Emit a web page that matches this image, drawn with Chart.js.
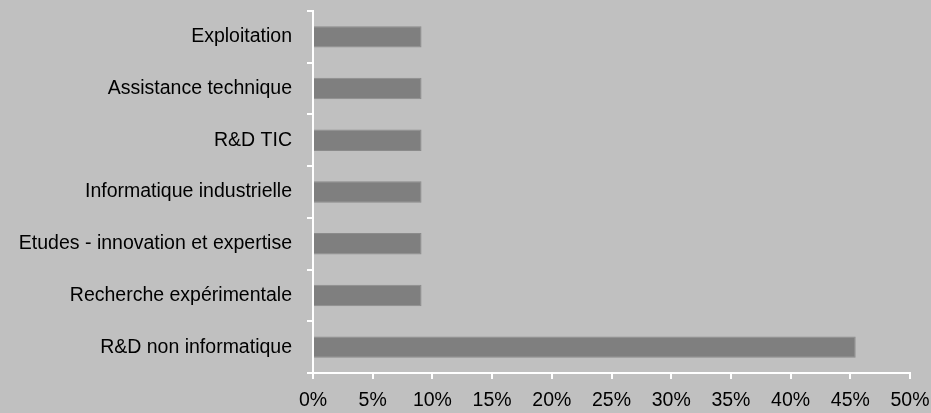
<!DOCTYPE html>
<html>
<head>
<meta charset="utf-8">
<script src="https://cdn.jsdelivr.net/npm/chart.js@4"></script>
<style>
  html, body { margin: 0; padding: 0; background: #c0c0c0; }
  #wrap { width: 931px; height: 413px; }
</style>
</head>
<body>
<div id="wrap"><canvas id="chart"></canvas></div>
<script>
const categories = [
    'Exploitation',
    'Assistance technique',
    'R&D TIC',
    'Informatique industrielle',
    'Etudes - innovation et expertise',
    'Recherche expérimentale',
    'R&D non informatique'
];
const shares = [9.09, 9.09, 9.09, 9.09, 9.09, 9.09, 45.45];
const xTicks = [0, 5, 10, 15, 20, 25, 30, 35, 40, 45, 50];

const labelFont = { family: '"Liberation Sans", Arial, sans-serif', size: 19.5 };

const ctx = document.getElementById('chart').getContext('2d');
const chart = new Chart(ctx, {
    type: 'bar',
    data: {
        labels: categories,
        datasets: [{
            data: shares,
            backgroundColor: '#7f7f7f',
            borderColor: '#8b8b8b',
            borderWidth: 1,
            barPercentage: 0.415,
            categoryPercentage: 1
        }]
    },
    options: {
        indexAxis: 'y',
        responsive: true,
        maintainAspectRatio: false,
        animation: false,
        layout: {
            autoPadding: false,
            padding: { top: 11, right: 21, bottom: 0, left: 0 }
        },
        scales: {
            x: {
                min: 0,
                max: 50,
                afterBuildTicks: (scale) => {
                    scale.ticks = xTicks.map(v => ({ value: v }));
                },
                afterFit: (scale) => {
                    scale.height = 40;
                    scale.paddingLeft = 0;
                    scale.paddingRight = 0;
                },
                ticks: {
                    color: '#000',
                    font: labelFont,
                    padding: 10,
                    maxRotation: 0,
                    callback: (v) => v + '%'
                },
                grid: {
                    drawOnChartArea: false,
                    color: '#ffffff',
                    lineWidth: 2,
                    tickLength: 6
                },
                border: { color: '#ffffff', width: 2 }
            },
            y: {
                afterFit: (scale) => {
                    scale.width = 313;
                    scale.paddingTop = 0;
                    scale.paddingBottom = 0;
                },
                ticks: {
                    color: '#000',
                    font: labelFont,
                    padding: 15
                },
                grid: {
                    drawOnChartArea: false,
                    offset: true,
                    color: '#ffffff',
                    lineWidth: 2,
                    tickLength: 6
                },
                border: { color: '#ffffff', width: 2 }
            }
        },
        plugins: {
            legend: { display: false },
            tooltip: { enabled: false }
        }
    }
});
</script>
</body>
</html>
